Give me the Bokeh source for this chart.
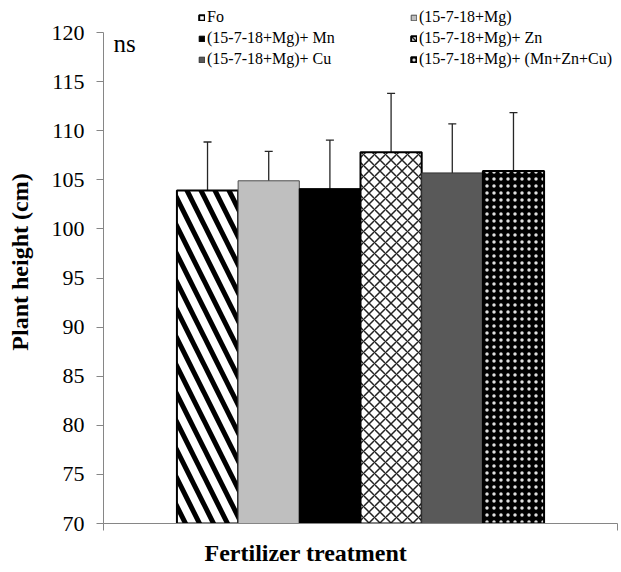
import math
from bokeh.plotting import figure
from bokeh.models import (Range1d, FixedTicker, Whisker, TeeHead, ColumnDataSource,
                          Legend, LegendItem, Label, Title)
from bokeh.embed import file_html
from bokeh.resources import INLINE

treatments = ["Fo", "(15-7-18+Mg)", "(15-7-18+Mg)+ Mn", "(15-7-18+Mg)+ Zn",
              "(15-7-18+Mg)+ Cu", "(15-7-18+Mg)+ (Mn+Zn+Cu)"]
heights = [103.9, 104.9, 104.1, 107.8, 105.7, 105.9]
errors = [4.95, 3.0, 4.95, 6.0, 5.0, 5.95]
y_ticks = [70, 75, 80, 85, 90, 95, 100, 105, 110, 115, 120]
Y_MIN, Y_MAX = 70, 120

FONT = "Liberation Serif"

# layout (pixels)
W, H = 621, 572
FRAME_L, FRAME_R, FRAME_B = 103, 4, 49
PLOT_TOP_PX = 32          # pixel row of the 120 tick
frame_h = H - FRAME_B
axis_px = frame_h - PLOT_TOP_PX
y_top = Y_MAX + (Y_MAX - Y_MIN) * PLOT_TOP_PX / axis_px   # headroom for legend

styles = [
    dict(fill_color="white", hatch_pattern="left_diagonal_line", hatch_color="black",
         hatch_scale=28, hatch_weight=5, line_color="black", line_width=2),
    dict(fill_color="#bfbfbf", line_color="#4d4d4d", line_width=1),
    dict(fill_color="black", line_color="black", line_width=1),
    dict(fill_color="white", hatch_pattern="diagonal_cross", hatch_color="#222222",
         hatch_scale=11, hatch_weight=1.5, line_color="black", line_width=2),
    dict(fill_color="#595959", line_color="#333333", line_width=1),
    dict(fill_color="black", hatch_pattern="dot", hatch_color="#e0e0e0",
         hatch_scale=7, hatch_weight=2, line_color="black", line_width=2),
]

n = len(treatments)
xs = [i - (n - 1) / 2 for i in range(n)]
X_MIN, X_MAX = -4.2, 4.2

p = figure(width=W, height=H, output_backend="svg", toolbar_location=None,
           x_range=Range1d(X_MIN, X_MAX), y_range=Range1d(Y_MIN, y_top),
           min_border_left=FRAME_L, min_border_right=FRAME_R, min_border_top=0,
           min_border_bottom=FRAME_B)
p.outline_line_color = None
p.xgrid.visible = False
p.ygrid.visible = False
p.background_fill_color = "white"
p.border_fill_color = "white"

renderers = []
for i in range(n):
    r = p.vbar(x=[xs[i]], top=[heights[i]], bottom=Y_MIN, width=1.0, **styles[i])
    renderers.append(r)

src = ColumnDataSource(dict(x=xs,
                            upper=[h + e for h, e in zip(heights, errors)],
                            lower=[h - e for h, e in zip(heights, errors)]))
w = Whisker(source=src, base="x", upper="upper", lower="lower",
            line_color="#262626", line_width=1.3,
            upper_head=TeeHead(size=8, line_color="#262626", line_width=1.3),
            lower_head=TeeHead(size=8, line_color="#262626", line_width=1.3))
p.add_layout(w)

# y axis
ya = p.yaxis[0]
ya.ticker = FixedTicker(ticks=y_ticks)
ya.bounds = (Y_MIN, Y_MAX)
ya.axis_line_color = "#868686"
ya.major_tick_line_color = "#868686"
ya.major_tick_out = 7
ya.major_tick_in = 0
ya.minor_tick_line_color = None
ya.major_label_text_font = FONT
ya.major_label_text_font_size = "22px"
ya.major_label_text_color = "black"
ya.major_label_standoff = 12
ya.axis_label = "Plant height (cm)"
ya.axis_label_text_font = FONT
ya.axis_label_text_font_size = "24px"
ya.axis_label_text_font_style = "bold"
ya.axis_label_text_color = "black"
ya.axis_label_standoff = 16

# x axis
xa = p.xaxis[0]
xa.ticker = FixedTicker(ticks=[X_MIN, X_MAX])
xa.axis_line_color = "#868686"
xa.major_tick_line_color = "#868686"
xa.major_tick_out = 7
xa.major_tick_in = 0
xa.minor_tick_line_color = None
xa.major_label_text_font_size = "0px"
xa.major_label_text_color = None
xa.major_label_standoff = 0

# x axis title as a side-panel title
p.add_layout(Title(text="Fertilizer treatment", align="left", offset=101,
                   text_font=FONT, text_font_size="24px", text_font_style="bold",
                   text_color="black", standoff=14), "below")

p.add_layout(Label(x=10, y=480, x_units="screen", y_units="screen", text="ns",
                   text_font=FONT, text_font_size="25px", text_color="black",
                   text_align="left", text_baseline="alphabetic"))

# legends (two columns)
def make_legend(idx, xloc):
    return Legend(items=[LegendItem(label=treatments[i], renderers=[renderers[i]]) for i in idx],
                  location=(xloc, 453.5), orientation="vertical",
                  padding=0, margin=0, spacing=0, label_height=21,
                  glyph_width=7, glyph_height=7, label_standoff=2,
                  label_text_font=FONT, label_text_font_size="16px",
                  label_text_color="black",
                  border_line_color=None, background_fill_alpha=0)

p.add_layout(make_legend([0, 2, 4], 95))
p.add_layout(make_legend([1, 3, 5], 307))

open("out.html", "w").write(file_html(p, INLINE))
